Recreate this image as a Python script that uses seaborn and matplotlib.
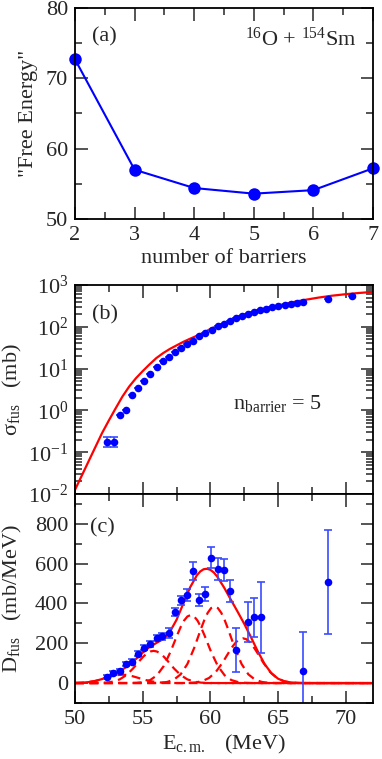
import matplotlib
matplotlib.use("Agg")
import numpy as np
import matplotlib.pyplot as plt
import seaborn as sns
from matplotlib.ticker import MultipleLocator, LogLocator, LogFormatterMathtext, NullFormatter

# (a) "free energy" vs number of barriers
n_barriers = [2, 3, 4, 5, 6, 7]
free_energy = [72.7, 57.0, 54.4, 53.6, 54.1, 57.2]

# (b) fusion cross section (mb), data
e_sig = [52.37, 52.85, 53.32, 53.76, 54.20, 54.63, 55.10, 55.56, 56.02, 56.49,
         56.95, 57.39, 57.85, 58.29, 58.73, 59.17, 59.62, 60.08, 60.53, 60.97,
         61.43, 61.90, 62.34, 62.78, 63.22, 63.68, 64.12, 64.56, 65.02, 65.49,
         65.93, 66.39, 66.85, 68.65, 70.43]
sig = [0.18, 0.18, 0.79, 1.04, 2.4, 3.5, 5.0, 7.6, 10.7, 15.0,
       19.0, 25.0, 31.0, 39.0, 46.0, 61.0, 73.0, 86.0, 103.0, 118.0,
       141.0, 165.0, 185.0, 202.0, 222.0, 247.0, 267.0, 293.0, 315.0, 338.0,
       357.0, 378.0, 392.0, 454.0, 545.0]
sig_err = [0.05, 0.05] + [0.0] * 33

# (b) fit curve
fit_e = [50.0, 50.5, 51.0, 51.5, 52.0, 52.5, 53.0, 53.5, 54.0, 54.5, 55.0, 55.5,
         56.0, 56.5, 57.0, 57.5, 58.0, 58.5, 59.0, 59.5, 60.0, 60.5, 61.0, 61.5,
         62.0, 63.0, 64.0, 65.0, 66.0, 67.0, 68.0, 69.0, 70.0, 71.0, 72.0]
fit_sig = [0.0126, 0.0275, 0.0603, 0.132, 0.288, 0.575, 1.12, 2.14, 3.72, 5.89,
           8.71, 12.6, 17.8, 23.4, 29.5, 35.9, 43.7, 51.9, 61.0, 72.4, 89.1, 105,
           122, 145, 166, 214, 269, 324, 385, 442, 501, 556, 603, 646, 684]

# (c) barrier distribution (mb/MeV), data
e_d = [52.39, 52.80, 53.34, 53.73, 54.20, 54.66, 55.07, 55.54, 56.02, 56.46,
       56.93, 57.39, 57.83, 58.27, 58.73, 59.17, 59.63, 60.07, 60.54, 61.00,
       61.41, 61.88, 62.78, 63.24, 63.71, 66.85, 68.66]
d_fus = [31, 53, 60, 95, 108, 148, 177, 197, 227, 234,
         250, 358, 415, 443, 561, 417, 447, 630, 572, 567,
         462, 166, 307, 330, 330, 59, 508]
d_err = [8, 10, 10, 10, 12, 12, 13, 14, 16, 20,
         25, 20, 24, 29, 45, 32, 37, 52, 55, 54,
         55, 109, 99, 98, 178, 200, 259]

# (c) total fit
tot_e = [50.0, 50.5, 51.0, 51.5, 52.0, 52.5, 53.0, 53.5, 54.0, 54.5, 55.0, 55.5,
         56.0, 56.5, 57.0, 57.5, 58.0, 58.5, 59.0, 59.25, 59.5, 59.75, 60.0, 60.25,
         60.5, 61.0, 61.5, 62.0, 62.5, 63.0, 63.5, 64.0, 64.5, 65.0, 65.5, 66.0,
         66.5, 67.0, 67.5, 72.0]
tot_d = [0.6, 1.8, 4.9, 10.8, 20.3, 33.4, 49.1, 67.9, 91.4, 121.0, 153.2, 181.1,
         201.0, 220.5, 256.2, 318.1, 399.7, 480.8, 541.6, 560.7, 571.9, 574.2, 568.7, 555.5,
         535.2, 481.0, 420.0, 359.4, 297.4, 229.6, 158.9, 95.8, 49.5, 21.7, 8.0, 2.5,
         0.7, 0.1, 0.0, 0.0]

# (c) individual barriers (dashed)
comp1_e = [50.0, 50.5, 51.0, 51.5, 52.0, 52.5, 52.75, 53.0, 53.25, 53.5, 53.75, 54.0,
           54.25, 54.5, 55.0, 55.5, 56.0, 56.5, 57.0, 57.5, 58.0, 72.0]
comp1_d = [0.6, 1.8, 4.8, 10.5, 19.2, 29.7, 34.5, 38.5, 41.1, 42.0, 41.1, 38.5,
           34.5, 29.7, 19.2, 10.5, 4.8, 1.8, 0.6, 0.2, 0.0, 0.0]
comp2_e = [50.0, 51.3, 51.8, 52.3, 52.8, 53.3, 53.8, 54.3, 54.8, 55.05, 55.3, 55.55,
           55.8, 56.05, 56.3, 56.55, 56.8, 57.3, 57.8, 58.3, 58.8, 59.3, 59.8, 60.3, 72.0]
comp2_d = [0.0, 0.1, 0.6, 2.3, 7.1, 18.5, 40.3, 74.2, 114.5, 133.3, 148.6, 158.5,
           162.0, 158.5, 148.6, 133.3, 114.5, 74.2, 40.3, 18.5, 7.1, 2.3, 0.6, 0.1, 0.0]
comp3_e = [50.0, 54.05, 54.55, 55.05, 55.55, 56.05, 56.55, 57.05, 57.55, 57.8, 58.05, 58.3,
           58.55, 58.8, 59.05, 59.3, 59.55, 60.05, 60.55, 61.05, 61.55, 62.05, 62.55, 63.05, 72.0]
comp3_d = [0.0, 0.3, 1.3, 4.9, 15.0, 39.0, 85.2, 156.6, 241.8, 281.3, 313.6, 334.6,
           342.0, 334.6, 313.6, 281.3, 241.8, 156.6, 85.2, 39.0, 15.0, 4.9, 1.3, 0.3, 0.0]
comp4_e = [50.0, 55.8, 56.3, 56.8, 57.3, 57.8, 58.3, 58.8, 59.3, 59.55, 59.8, 60.05,
           60.3, 60.55, 60.8, 61.05, 61.3, 61.8, 62.3, 62.8, 63.3, 63.8, 64.3, 64.8, 72.0]
comp4_d = [0.0, 0.3, 1.5, 5.5, 16.9, 43.9, 95.9, 176.3, 272.2, 316.7, 353.0, 376.7,
           385.0, 376.7, 353.0, 316.7, 272.2, 176.3, 95.9, 43.9, 16.9, 5.5, 1.5, 0.3, 0.0]
comp5_e = [50.0, 57.9, 58.4, 58.9, 59.4, 59.9, 60.4, 60.9, 61.4, 61.65, 61.9, 62.15,
           62.4, 62.65, 62.9, 63.15, 63.4, 63.9, 64.4, 64.9, 65.4, 65.9, 66.4, 66.9, 72.0]
comp5_d = [0.0, 0.2, 0.9, 3.2, 9.9, 25.7, 56.0, 103.1, 159.1, 185.1, 206.3, 220.2,
           225.0, 220.2, 206.3, 185.1, 159.1, 103.1, 56.0, 25.7, 9.9, 3.2, 0.9, 0.2, 0.0]
components = [(comp1_e, comp1_d), (comp2_e, comp2_d), (comp3_e, comp3_d),
              (comp4_e, comp4_d), (comp5_e, comp5_d)]

sns.set_style("ticks")
plt.rcParams['font.family'] = ['Liberation Serif', 'DejaVu Serif']
plt.rcParams['mathtext.fontset'] = 'custom'
plt.rcParams['mathtext.rm'] = 'Liberation Serif'
plt.rcParams['mathtext.it'] = 'Liberation Serif:italic'
plt.rcParams['font.size'] = 16

fig = plt.figure(figsize=(3.82, 7.59), dpi=100)
ax_a = fig.add_axes([0.1963, 0.7115, 0.780, 0.278])
ax_b = fig.add_axes([0.1963, 0.3491, 0.780, 0.2754])
ax_c = fig.add_axes([0.1963, 0.0738, 0.780, 0.2754])

def style_axis(ax):
    for s in ax.spines.values():
        s.set_linewidth(1.3)
        s.set_color('black')
    ax.tick_params(which='both', direction='in', top=True, right=True, width=1.1,
                   labelsize=16, pad=5)
    ax.tick_params(which='major', length=9)
    ax.tick_params(which='minor', length=5)

# ---- (a)
sns.lineplot(x=n_barriers, y=free_energy, ax=ax_a, color='blue', lw=1.5,
             marker='o', markersize=9, markeredgewidth=0, clip_on=False)
ax_a.set_xlim(2, 7)
ax_a.set_ylim(50, 80)
ax_a.xaxis.set_major_locator(MultipleLocator(1))
ax_a.xaxis.set_minor_locator(MultipleLocator(0.5))
ax_a.yaxis.set_major_locator(MultipleLocator(10))
ax_a.yaxis.set_minor_locator(MultipleLocator(5))
ax_a.set_xlabel("number of barriers", fontsize=16)
ax_a.set_ylabel('"Free Energy"', fontsize=16)
ax_a.xaxis.set_label_coords(0.5, -0.14)
ax_a.yaxis.set_label_coords(-0.124, 0.5)
ax_a.text(0.057, 0.91, "(a)", transform=ax_a.transAxes, fontsize=16, va='top')
ax_a.text(0.945, 0.905, r"$^{16}$O + $^{154}$Sm", transform=ax_a.transAxes,
          fontsize=16, va='top', ha='right')
style_axis(ax_a)

# ---- (b)
ax_b.set_yscale('log')
sns.lineplot(x=fit_e, y=fit_sig, ax=ax_b, color='red', lw=1.6)
ax_b.errorbar(e_sig, sig, yerr=sig_err, fmt='none', ecolor='#3a4cff',
              elinewidth=1.2, capsize=3, capthick=1.2)
sns.scatterplot(x=e_sig, y=sig, ax=ax_b, color='blue', s=30, linewidth=0, zorder=3)
ax_b.set_xlim(50, 72)
ax_b.set_ylim(1e-2, 1e3)
ax_b.xaxis.set_major_locator(MultipleLocator(5))
ax_b.xaxis.set_minor_locator(MultipleLocator(2.5))
ax_b.xaxis.set_major_formatter(NullFormatter())
ax_b.yaxis.set_major_locator(LogLocator(base=10, numticks=10))
ax_b.yaxis.set_minor_locator(LogLocator(base=10, subs=np.arange(2, 10), numticks=20))
ax_b.yaxis.set_major_formatter(LogFormatterMathtext())
ax_b.yaxis.set_minor_formatter(NullFormatter())
ax_b.set_xlabel("")
ax_b.set_ylabel(r"σ$_{\rm fus}$   (mb)", fontsize=16)
ax_b.yaxis.set_label_coords(-0.17, 0.5)
ax_b.text(0.057, 0.905, "(b)", transform=ax_b.transAxes, fontsize=16, va='top')
ax_b.text(0.53, 0.435, r"n$_{\rm barrier}$ = 5", transform=ax_b.transAxes,
          fontsize=16, va='center', ha='left')
style_axis(ax_b)

# ---- (c)
for ce, cd in components:
    sns.lineplot(x=ce, y=cd, ax=ax_c, color='red', lw=1.6, linestyle=(0, (4, 2.5)))
sns.lineplot(x=tot_e, y=tot_d, ax=ax_c, color='red', lw=1.6)
ax_c.errorbar(e_d, d_fus, yerr=d_err, fmt='none', ecolor='#3a4cff',
              elinewidth=1.2, capsize=3, capthick=1.2)
sns.scatterplot(x=e_d, y=d_fus, ax=ax_c, color='blue', s=30, linewidth=0, zorder=3)
ax_c.set_xlim(50, 72)
ax_c.set_ylim(-100, 950)
ax_c.xaxis.set_major_locator(MultipleLocator(5))
ax_c.xaxis.set_minor_locator(MultipleLocator(2.5))
ax_c.yaxis.set_major_locator(MultipleLocator(200))
ax_c.yaxis.set_minor_locator(MultipleLocator(100))
ax_c.set_xlabel(r"E$_{\rm c.m.}$   (MeV)", fontsize=16)
ax_c.set_ylabel(r"D$_{\rm fus}$   (mb/MeV)", fontsize=16)
ax_c.xaxis.set_label_coords(0.5, -0.145)
ax_c.yaxis.set_label_coords(-0.17, 0.5)
ax_c.text(0.05, 0.885, "(c)", transform=ax_c.transAxes, fontsize=16, va='top')
style_axis(ax_c)

fig.savefig("out.png", dpi=100)
